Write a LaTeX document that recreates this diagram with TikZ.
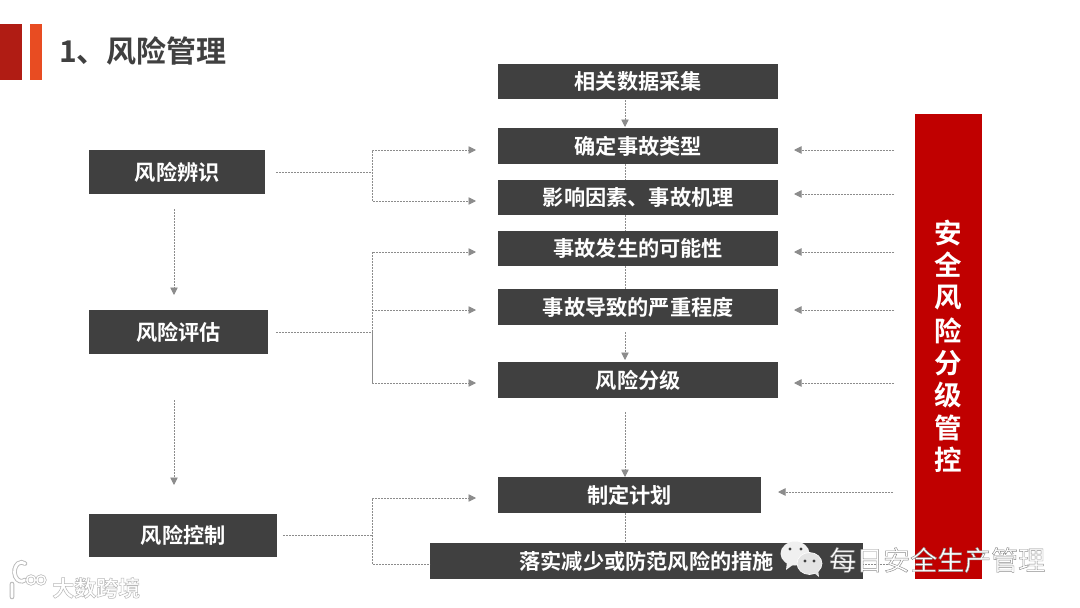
\documentclass[tikz,border=0pt]{standalone}
\usepackage{fontspec}
\setmainfont{Noto Sans CJK SC}[BoldFont={Noto Sans CJK SC Bold}]
\usetikzlibrary{arrows.meta}
\definecolor{boxgray}{HTML}{404040}
\definecolor{linegray}{HTML}{8C8C8C}
\definecolor{barred}{HTML}{C00000}
\newcommand{\outlined}[1]{\special{pdf:code 2 Tr 0.45 w 0.55 G}#1\special{pdf:code 0 Tr 0 G}}
\newcommand{\halo}[1]{\special{pdf:code 2 Tr 0.5 w 0.72 G}#1\special{pdf:code 0 Tr 0 G}}
\tikzset{
  px/.style={x=1pt,y=-1pt},
  boxnode/.style={fill=boxgray,text=white,font=\bfseries\fontsize{21.2}{24}\selectfont,inner sep=0pt,anchor=north west},
  link/.style={draw=linegray,line width=0.9pt,dash pattern=on 2pt off 1pt},
  arrowlink/.style={link,-{Triangle[length=7.5pt,width=7.5pt,fill=linegray]}},
  glyphbar/.style={font=\bfseries\fontsize{27.5}{30}\selectfont,text=white,inner sep=0pt},
  bubble/.style={draw=white,line width=.6pt}
}
\newcommand{\bx}[6]{\node[boxnode,minimum width=#4pt,minimum height=#5pt] (#1) at (#2,#3) {#6};}
\begin{document}
\begin{tikzpicture}[px]
\useasboundingbox (0,0) rectangle (1080,608);
\fill[white] (0,0) rectangle (1080,608);
% header
\fill[fill={rgb,255:red,176;green,28;blue,20}] (0,24) rectangle (22,80);
\fill[fill={rgb,255:red,232;green,76;blue,34}] (30,24) rectangle (42,80);
\node[font=\bfseries\fontsize{30}{32}\selectfont,text=boxgray,inner sep=0pt,anchor=west] (title) at (59,51) {1、风险管理};
% left boxes
\bx{a}{89}{150}{176}{44}{风险辨识}
\bx{b}{89}{310}{179}{44}{风险评估}
\bx{c}{89}{514}{188}{43}{风险控制}
% centre boxes
\bx{c1}{498}{64}{280}{35}{相关数据采集}
\bx{c2}{498}{128}{280}{36}{确定事故类型}
\bx{c3}{498}{180}{280}{35}{影响因素、事故机理}
\bx{c4}{498}{231}{280}{35}{事故发生的可能性}
\bx{c5}{498}{289}{280}{36}{事故导致的严重程度}
\bx{c6}{498}{362}{280}{36}{风险分级}
\bx{c7}{498}{477}{263}{36}{制定计划}
\bx{c8}{430}{543}{433}{36}{落实减少或防范风险的措施}
% red bar
\node[fill=barred,text=white,inner sep=0pt,anchor=north west,minimum width=67pt,minimum height=465pt] (bar) at (915,114) {};
\foreach \ch/\yy in {安/233.5,全/265,风/298,险/331,分/363,级/395,管/428,控/460}
  \node[glyphbar] at (948.5,\yy) {\ch};
% free ends
\coordinate (aout) at (276,172); \coordinate (ja) at (372,172);
\coordinate (ja1) at (372,150); \coordinate (ja2) at (372,201);
\coordinate (ea1) at (476,150); \coordinate (ea2) at (476,201);
\coordinate (bout) at (276,332); \coordinate (jb) at (372,332);
\coordinate (jb1) at (372,252); \coordinate (jb2) at (372,310); \coordinate (jb3) at (372,383);
\coordinate (eb1) at (476,252); \coordinate (eb2) at (476,310); \coordinate (eb3) at (476,383);
\coordinate (cout) at (283,535); \coordinate (jc) at (372,535);
\coordinate (jc1) at (372,498); \coordinate (jc2) at (372,564);
\coordinate (ec1) at (476,498);
\coordinate (v1s) at (174,209); \coordinate (v1e) at (174,295);
\coordinate (v2s) at (174,400); \coordinate (v2e) at (174,485);
% left branches
\draw[link] (aout) -- (ja);
\draw[arrowlink] (ja2) -- (ja1) -- (ea1);
\draw[arrowlink] (ja) -- (ja2) -- (ea2);
\draw[link] (bout) -- (jb);
\draw[arrowlink] (jb3) -- (jb1) -- (eb1);
\draw[arrowlink] (jb2) -- (eb2);
\draw[arrowlink] (jb) -- (jb3) -- (eb3);
\draw[link] (cout) -- (jc);
\draw[arrowlink] (jc2) -- (jc1) -- (ec1);
\draw[link] (jc) -- (jc2) -- (c8.west |- jc2);
\draw[arrowlink] (v1s) -- (v1e);
\draw[arrowlink] (v2s) -- (v2e);
% centre links
\draw[arrowlink] (625,100) -- (625,127);
\draw[link] (625,164) -- (625,180);
\draw[link] (625,215) -- (625,231);
\draw[link] (625,266) -- (625,289);
\draw[arrowlink] (625,332) -- (625,360);
\draw[arrowlink] (625,412) -- (625,477);
\draw[link] (625,513) -- (625,543);
% right links
\foreach \yy in {150,194,252,310,383}
  \draw[arrowlink] (894,\yy) -- (794,\yy);
\draw[arrowlink] (893,492) -- (778,492);
\draw[link] (894,564) -- (863,564);
% watermarks
\fill[fill={rgb,255:red,240;green,240;blue,240}] (795,553.5) ellipse (14.5 and 12);
\fill[fill={rgb,255:red,240;green,240;blue,240}] (787,562) -- (786,570) -- (794,564) -- cycle;
\fill[boxgray] (790,549) circle (1.6) (801,549) circle (1.6);
\fill[fill={rgb,255:red,228;green,228;blue,228},bubble] (809.5,563.5) ellipse (12.5 and 11);
\fill[fill={rgb,255:red,228;green,228;blue,228}] (813,572) -- (819,577) -- (818,569) -- cycle;
\fill[boxgray] (805,561) circle (1.6) (814,561) circle (1.6);
\node[font=\fontsize{27}{30}\selectfont,text=white,inner sep=0pt,anchor=west] (wm) at (829,560) {\outlined{每日安全生产管理}};
\draw[draw=gray!55,line width=4.6pt,line cap=round] (12,584) -- (12,597) (25,580) arc (60:300:7 and 9.5);
\draw[draw=white,line width=2.8pt,line cap=round] (12,584) -- (12,597) (25,580) arc (60:300:7 and 9.5);
\draw[draw=gray!55,line width=2.8pt] (31,580) circle (4.2) (41,580) circle (4.2);
\draw[draw=white,line width=1.4pt] (31,580) circle (4.2) (41,580) circle (4.2);
\node[font=\bfseries\fontsize{22}{24}\selectfont,text=white,inner sep=0pt,anchor=west] (wm2) at (52,588) {\halo{大数跨境}};
\end{tikzpicture}
\end{document}
